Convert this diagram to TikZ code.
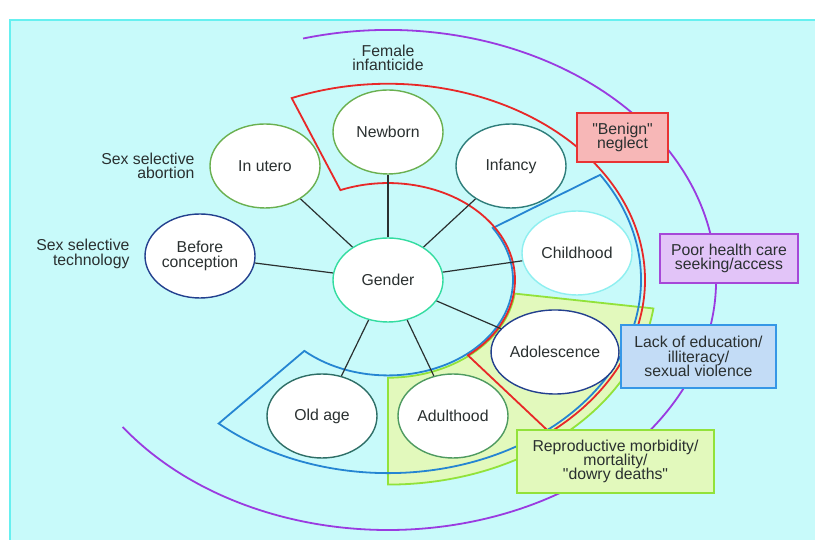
\documentclass[tikz,border=0pt]{standalone}
\usepackage{fontspec}
\setmainfont{Liberation Sans}
\usepackage{tikz}
\usetikzlibrary{shapes.geometric}
\definecolor{BackCyan}{HTML}{C8FAFA}
\definecolor{BorderCyan}{HTML}{66F0F0}
\definecolor{TextGrey}{HTML}{2A3030}
\definecolor{SpokeGrey}{HTML}{2A3030}
\definecolor{PathPurple}{HTML}{9A3BE0}
\definecolor{ZoneRed}{HTML}{E82828}
\definecolor{ZoneBlue}{HTML}{2585D2}
\definecolor{ZoneGreen}{HTML}{92E23A}
\definecolor{ZoneGreenFill}{HTML}{E2F9BC}
\definecolor{GenderRing}{HTML}{33DCA0}
\definecolor{LeafGreen}{HTML}{6AB050}
\definecolor{DeepTeal}{HTML}{2E7D7A}
\definecolor{NavyRing}{HTML}{23408E}
\definecolor{PaleCyan}{HTML}{8EEFF0}
\definecolor{MossGreen}{HTML}{4E9A60}
\definecolor{DarkTeal}{HTML}{2E6E66}
\definecolor{BoxRed}{HTML}{E83434}
\definecolor{BoxRedFill}{HTML}{F7B7B7}
\definecolor{BoxPurple}{HTML}{A648D8}
\definecolor{BoxPurpleFill}{HTML}{E2C4F8}
\definecolor{BoxBlue}{HTML}{3597E6}
\definecolor{BoxBlueFill}{HTML}{C3DCF6}
\newcommand{\diagfont}{\fontsize{15.8}{14.3}\selectfont\lineskiplimit=-20pt\relax}
\tikzset{
  stage/.style={ellipse, draw, fill=white, line width=1.4pt, minimum width=110pt,
    minimum height=84pt, inner sep=0pt, align=center},
  spoke/.style={draw=SpokeGrey, line width=1.2pt},
  ring/.style={line width=1.8pt, line join=miter},
  riskbox/.style={draw, line width=2pt, align=center, inner sep=0pt},
  sidelabel/.style={align=right, anchor=east}
}
% annular sector round the hub: [style]{from angle}{to angle}{inner r}{outer r}
\newcommand{\ringsector}[5][]{%
  \pgfmathsetmacro\secin{#4/1.31}\pgfmathsetmacro\secout{#5/1.31}%
  \draw[#1] (#2:#5 and \secout) arc[start angle=#2, end angle=#3, x radius=#5, y radius=\secout]
    -- (#3:#4 and \secin) arc[start angle=#3, end angle=#2, x radius=#4, y radius=\secin] -- cycle;}

\begin{document}
\begin{tikzpicture}[x=1pt, y=1pt, font=\diagfont, text=TextGrey]
\useasboundingbox (0,0) rectangle (815,540);
\fill[white] (0,0) rectangle (815,540);
\fill[BackCyan] (10,0) rectangle (815,520);
\draw[BorderCyan, line width=2pt] (10,0) -- (10,520) -- (815,520);

% rings round Gender
\begin{scope}[shift={(388,260)}]
  \draw[ring, draw=PathPurple] (105:328 and 250) arc[start angle=105, end angle=-144, x radius=328, y radius=250];
  \ringsector[ring, draw=ZoneGreen, fill=ZoneGreenFill]{-8}{-90}{128}{268}
  \ringsector[ring, draw=ZoneBlue]{33}{-132}{125}{253}
  \ringsector[ring, draw=ZoneRed]{112}{-51}{127}{257}
\end{scope}

% life stages
\node[stage, draw=GenderRing] (gender) at (388,260) {Gender};
\node[stage, draw=LeafGreen] (newborn) at (388,408) {Newborn};
\node[stage, draw=LeafGreen] (utero) at (265,374) {In utero};
\node[stage, draw=DeepTeal] (infancy) at (511,374) {Infancy};
\node[stage, draw=NavyRing] (before) at (200,284) {Before\\conception};
\node[stage, draw=PaleCyan] (childhood) at (577,287) {Childhood};
\node[stage, draw=NavyRing] (adolescence) at (555,188) {Adolescence};
\node[stage, draw=MossGreen] (adulthood) at (453,124) {Adulthood};
\node[stage, draw=DarkTeal] (oldage) at (322,124) {Old age};
\foreach \leaf in {newborn,utero,infancy,before,childhood,adolescence,adulthood,oldage}
  \draw[spoke] (gender) -- (\leaf);

% side texts
\node[align=center] (infanticide) at (388,482) {Female\\infanticide};
\node[sidelabel] (abortion) at (198,374) {Sex selective\\abortion};
\node[sidelabel] (technology) at (133,286) {Sex selective\\technology};

% risk boxes
\node[riskbox, draw=BoxRed, fill=BoxRedFill, minimum width=91pt, minimum height=49pt] (neglect) at (622.5,402.5) {\textquotedbl Benign\textquotedbl\\neglect};
\node[riskbox, draw=BoxPurple, fill=BoxPurpleFill, minimum width=138pt, minimum height=49pt] (access) at (729,281.5) {Poor health care\\seeking/access};
\node[riskbox, draw=BoxBlue, fill=BoxBlueFill, minimum width=155pt, minimum height=63pt] (education) at (698.5,183.5) {Lack of education/\\illiteracy/\\sexual violence};
\node[riskbox, draw=ZoneGreen, fill=ZoneGreenFill, minimum width=197pt, minimum height=63pt] (dowry) at (615.5,78.5) {Reproductive morbidity/\\mortality/\\\textquotedbl dowry deaths\textquotedbl};
\end{tikzpicture}
\end{document}
